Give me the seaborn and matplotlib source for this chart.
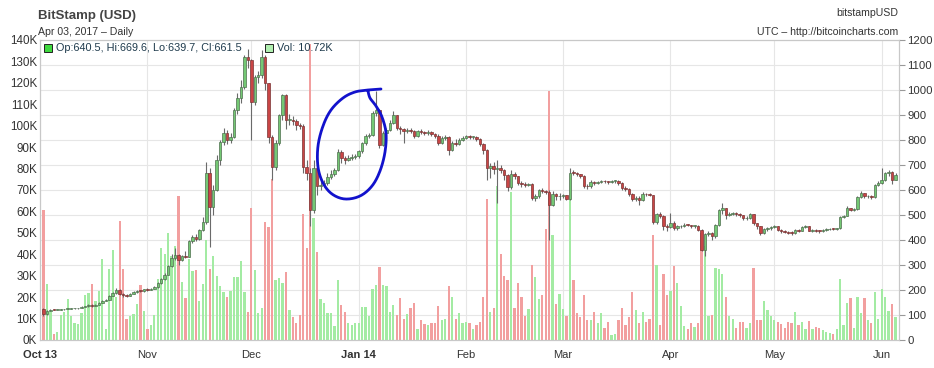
import numpy as np
import pandas as pd
import matplotlib
matplotlib.use("Agg")
import matplotlib.pyplot as plt
import seaborn as sns
from matplotlib.lines import Line2D
from matplotlib.patches import Rectangle

# first day of the series (Bitstamp daily candles)
START = "2013-10-02"
FIRST_OPEN = 125.0

# daily closes, one row per month (Oct 13 .. Jun 14)
closes = [
    104, 116, 122, 121, 122, 123, 124, 126, 126.5, 127, 128, 133, 135, 142, 137, 141, 150, 157, 162, 177, 188, 201, 186, 180, 178, 185, 192, 197, 196, 203,
    201, 205, 212, 228, 245, 262, 296, 330, 340, 322, 338, 334, 395, 412, 405, 440, 472, 668, 532, 600, 720, 792, 828, 800, 812, 920, 968, 1012, 1132, 1120,
    952, 1052, 1060, 1132, 1028, 812, 692, 788, 900, 980, 880, 882, 878, 860, 858, 692, 670, 520, 688, 615, 622, 630, 653, 664, 680, 753, 727, 722, 728, 733, 738,
    755, 787, 816, 822, 907, 920, 780, 827, 840, 870, 900, 850, 843, 838, 840, 836, 818, 835, 832, 828, 832, 826, 818, 790, 808, 812, 762, 790, 786, 800, 808,
    815, 812, 814, 805, 785, 762, 690, 698, 685, 690, 680, 660, 612, 665, 655, 628, 625, 622, 625, 568, 575, 600, 598, 592, 540, 585, 575, 578,
    580, 565, 670, 668, 663, 658, 618, 615, 632, 628, 632, 638, 635, 632, 636, 638, 630, 610, 605, 585, 565, 570, 560, 585, 583, 580, 473, 505, 498, 455, 452,
    470, 450, 455, 458, 462, 460, 456, 458, 440, 360, 425, 428, 415, 460, 520, 527, 500, 505, 508, 505, 500, 487, 490, 503, 467, 455, 428, 445, 447, 453,
    456, 440, 438, 433, 430, 428, 440, 438, 453, 455, 438, 440, 438, 436, 440, 443, 446, 445, 447, 493, 497, 527, 522, 525, 573, 587, 575, 578, 573, 620, 630,
    640, 667, 673, 640.5, 661.5,
]

highs = [
    128, 120, 125, 124, 124, 125, 126, 128, 128, 129, 130, 135, 137, 145, 143, 143, 152, 160, 165, 180, 192, 210, 205, 190, 184, 187, 195, 199, 200, 206,
    207, 207, 215, 232, 250, 268, 300, 345, 370, 345, 342, 358, 400, 420, 425, 445, 492, 712, 690, 620, 740, 800, 850, 840, 830, 930, 990, 1040, 1140, 1165,
    1125, 1060, 1075, 1160, 1140, 1030, 820, 800, 905, 985, 985, 905, 895, 885, 870, 865, 720, 690, 720, 690, 650, 640, 670, 680, 690, 765, 760, 735, 740, 745, 745,
    760, 792, 825, 830, 915, 995, 925, 835, 848, 880, 915, 900, 855, 850, 850, 848, 840, 840, 845, 838, 840, 835, 828, 825, 815, 820, 815, 795, 805, 810, 815,
    822, 820, 818, 816, 808, 790, 765, 710, 712, 720, 700, 685, 665, 680, 672, 658, 635, 632, 630, 628, 585, 605, 608, 602, 600, 595, 590, 588,
    585, 582, 690, 680, 672, 665, 660, 625, 640, 636, 638, 642, 640, 638, 640, 642, 640, 632, 615, 608, 590, 578, 575, 592, 590, 588, 582, 510, 512, 500, 465,
    510, 475, 462, 462, 468, 466, 462, 462, 460, 445, 430, 435, 432, 465, 525, 548, 530, 512, 512, 512, 508, 502, 495, 508, 505, 470, 458, 450, 452, 458,
    462, 458, 445, 442, 438, 435, 445, 445, 458, 460, 456, 446, 444, 442, 444, 447, 450, 450, 450, 497, 502, 535, 530, 530, 578, 595, 590, 582, 582, 625, 636,
    690, 672, 680, 675, 669.6,
]

lows = [
    95, 102, 115, 119, 120, 121, 122, 123, 125, 125, 126, 127, 132, 134, 133, 136, 140, 148, 155, 160, 175, 186, 180, 172, 174, 176, 184, 190, 192, 194,
    198, 199, 203, 210, 226, 240, 260, 292, 320, 300, 318, 330, 332, 388, 395, 400, 438, 465, 372, 500, 598, 700, 780, 785, 790, 810, 905, 950, 1005, 1090,
    800, 940, 1030, 1050, 1000, 790, 640, 680, 780, 880, 845, 860, 860, 840, 845, 670, 640, 455, 510, 580, 600, 615, 622, 645, 655, 675, 710, 705, 715, 720, 725,
    730, 748, 780, 810, 818, 895, 770, 775, 815, 835, 865, 840, 825, 790, 830, 828, 808, 812, 825, 820, 822, 818, 810, 780, 785, 800, 740, 755, 775, 782, 795,
    805, 805, 805, 795, 775, 745, 640, 650, 665, 550, 670, 640, 595, 605, 645, 620, 612, 612, 615, 560, 555, 570, 590, 585, 400, 535, 560, 560,
    570, 560, 560, 660, 655, 650, 610, 605, 610, 620, 625, 628, 630, 626, 628, 630, 622, 600, 595, 575, 555, 555, 540, 556, 575, 575, 465, 465, 490, 440, 438,
    448, 440, 440, 450, 452, 455, 450, 450, 435, 355, 335, 415, 400, 410, 455, 505, 485, 495, 500, 498, 492, 480, 482, 486, 460, 445, 420, 425, 438, 440,
    448, 435, 430, 428, 425, 420, 426, 432, 436, 448, 435, 434, 432, 430, 434, 438, 440, 440, 442, 445, 488, 495, 515, 518, 522, 570, 568, 570, 566, 570, 616,
    625, 636, 655, 625, 639.7,
]

# daily volume in thousands of BTC
volumes_k = [
    60.7, 26, 13, 2.8, 3.8, 11.7, 13, 19, 11, 8, 7.5, 12.5, 21, 22, 26, 18, 23, 38, 5, 33, 42, 20, 55.5, 33, 10, 11, 12, 17, 25.5, 13.6,
    5, 6.9, 11.6, 28.6, 42.9, 40, 50, 39, 44, 67, 27, 19.5, 38, 32, 32.5, 18, 26, 46.7, 33, 39, 30, 25, 22.5, 20, 23, 29.5, 29.5, 37, 22.5, 13,
    61.5, 32.7, 12.4, 14.8, 55, 52.9, 75, 28, 29, 26.6, 31.9, 14, 10.9, 7.8, 11.7, 59, 43, 138, 57, 41, 19, 17.4, 12.5, 12.5, 6.5, 28, 16.3, 13.2, 7.8, 7, 8,
    7.8, 15.4, 15.3, 11, 24, 25.6, 34, 25.6, 25, 13, 16.3, 11.6, 19.6, 9.6, 12, 14.8, 17.4, 5.3, 9.3, 7.5, 7, 7.8, 8, 16, 9.3, 10, 25, 20, 10, 12.4, 7.8,
    8.5, 7.8, 5, 7, 8.5, 20, 66, 13, 14.8, 72, 40, 30, 28, 69, 14.8, 26.6, 20, 11, 14.4, 35, 29.5, 19, 21, 52, 116, 49, 17, 21.7,
    14.4, 11, 66, 28, 12.5, 10.9, 21, 9.5, 9.3, 13, 7.8, 12.4, 5.5, 8.5, 2.5, 3, 9.3, 14.8, 7, 10.9, 22.5, 13.9, 8, 13, 8.5, 10, 49, 35, 7, 31, 21,
    23, 34.5, 26.7, 16, 6.5, 5, 7.8, 6.2, 8, 50, 44, 11, 11.6, 33.8, 33, 31, 20, 11, 10, 5.5, 8.3, 8.3, 5.8, 7.8, 33.8, 9.2, 9.5, 18, 14, 11,
    9.3, 8.3, 7.5, 5.5, 8.3, 7.8, 13, 6.8, 8.3, 5, 8.7, 5, 6.2, 5.8, 4.7, 3.9, 3.4, 3, 5, 28.3, 7, 17.4, 19.8, 5.8, 20, 12.4, 19.8, 9.2, 8, 22.3, 10,
    24, 20, 13.5, 17, 10.72,
]

# colours
VOL_UP, VOL_DOWN = "#a3eba3", "#f29f9f"
BODY_UP, BODY_DOWN = "#74c874", "#c94545"
EDGE_UP, EDGE_DOWN = "#4f6f4f", "#7a3434"
WICK = "#6a6a6a"
GRID = "#e6e6e6"
FRAME = "#c8c8c8"
TEXT = "#333333"

opens = [FIRST_OPEN] + closes[:-1]
df = pd.DataFrame({
    "day": np.arange(len(closes)),
    "open": opens, "high": highs, "low": lows, "close": closes,
    "vol": volumes_k,
})
df["dir"] = np.where(df["close"] >= df["open"], "up", "down")

sns.set_theme(style="white")
plt.rcParams["font.family"] = ["Liberation Sans", "DejaVu Sans"]

W, H = 934, 368
fig = plt.figure(figsize=(W / 100, H / 100), dpi=100)
ax = fig.add_axes([40 / W, 28 / H, 859 / W, 300 / H])

# volume bars (left axis)
sns.barplot(data=df, x="day", y="vol", hue="dir", palette={"up": VOL_UP, "down": VOL_DOWN},
            native_scale=True, dodge=False, width=0.66, saturation=1, errorbar=None,
            legend=False, linewidth=0, ax=ax)
ax.set_xlabel("")
ax.set_ylabel("")
ax.set_ylim(0, 140)
ax.set_xlim(-0.6, 247.0)

# candles (right axis)
ax2 = ax.twinx()
ax2.set_ylim(0, 1200)
up = df["dir"] == "up"
ax2.vlines(df["day"], df["low"], df["high"], color=WICK, lw=0.8, zorder=2)
body_lo = np.minimum(df["open"], df["close"])
body_h = np.maximum((df["close"] - df["open"]).abs(), 3.0)
ax2.bar(df["day"], body_h, bottom=body_lo, width=0.72,
        color=np.where(up, BODY_UP, BODY_DOWN), edgecolor=np.where(up, EDGE_UP, EDGE_DOWN),
        linewidth=0.5, zorder=3)

# price grid drawn on the volume axis so it stays behind the bars
price_ticks = np.arange(0, 1300, 100)
for p in price_ticks[1:]:
    ax.axhline(p * 140 / 1200, color=GRID, lw=0.8, zorder=0)

# month ticks, year shown on the first tick and on January
start = pd.Timestamp(START)
months = pd.date_range("2013-10-01", "2014-06-01", freq="MS")
mpos = [(m - start).days for m in months]
mlab = [m.strftime("%b %y") if (i == 0 or m.month == 1) else m.strftime("%b")
        for i, m in enumerate(months)]
ax.set_xticks(mpos)
ax.set_xticklabels(mlab)
for t in ax.get_xticklabels():
    if " " in t.get_text():
        t.set_fontweight("bold")
ax.grid(axis="x", color=GRID, lw=0.8)
ax.set_axisbelow(True)

ax.set_yticks(np.arange(0, 150, 10))
ax.set_yticklabels([f"{v}K" for v in range(0, 150, 10)])
ax2.set_yticks(price_ticks)
ax2.set_yticklabels([str(v) for v in price_ticks])

ax.tick_params(axis="x", length=0, pad=7, labelsize=8, colors=TEXT)
ax.tick_params(axis="y", length=0, pad=2, labelsize=8.4, colors=TEXT)
ax2.tick_params(axis="y", length=4, width=0.8, color="#999999", pad=2, labelsize=8.2, labelcolor=TEXT)

for a in (ax, ax2):
    for s in a.spines.values():
        s.set_color(FRAME)
        s.set_linewidth(0.8)

# header texts
fig.text(38 / W, 1 - 16 / H, "BitStamp (USD)", fontsize=9.5, fontweight="bold", color="#444444", va="center")
fig.text(38 / W, 1 - 32 / H, "Apr 03, 2017 \u2013 Daily", fontsize=7.6, color=TEXT, va="center")
fig.text(898 / W, 1 - 13 / H, "bitstampUSD", fontsize=7.6, color=TEXT, va="center", ha="right")
fig.text(898 / W, 1 - 32 / H, "UTC \u2013 http://bitcoincharts.com", fontsize=7.6, color=TEXT, va="center", ha="right")

# legend line for the last candle
last = df.iloc[-1]
fig.add_artist(Rectangle((44 / W, 1 - 52 / H), 8 / W, 8 / H, transform=fig.transFigure,
                         facecolor="#3fd93f", edgecolor="#222222", lw=0.7))
fig.text(56 / W, 1 - 48 / H,
         f"Op:{last['open']:.1f}, Hi:{last['high']:.1f}, Lo:{last['low']:.1f}, Cl:{last['close']:.1f}",
         fontsize=7.8, color="#1e3a4c", va="center")
fig.add_artist(Rectangle((265 / W, 1 - 52 / H), 8 / W, 8 / H, transform=fig.transFigure,
                         facecolor="#b0efb0", edgecolor="#222222", lw=0.7))
fig.text(277 / W, 1 - 48 / H, f"Vol: {last['vol']:.2f}K", fontsize=7.8, color="#1e3a4c", va="center")


# hand drawn blue loop around the early January run-up
def catmull(pts, n=10):
    pts = np.asarray(pts, float)
    p = np.vstack([pts[0], pts, pts[-1]])
    out = []
    for i in range(1, len(p) - 2):
        p0, p1, p2, p3 = p[i - 1], p[i], p[i + 1], p[i + 2]
        for t in np.linspace(0, 1, n, endpoint=False):
            out.append(0.5 * (2 * p1 + (-p0 + p2) * t + (2 * p0 - 5 * p1 + 4 * p2 - p3) * t ** 2
                              + (-p0 + 3 * p1 - 3 * p2 + p3) * t ** 3))
    out.append(p[-2])
    return np.array(out)


loop = [(381, 89), (368, 90), (355, 92), (343, 98), (331, 110), (323, 126), (318, 146), (318, 167),
        (323, 183), (332, 194), (345, 199), (360, 196), (372, 186), (380, 171), (385, 152), (386, 133),
        (382, 117), (376, 106), (370, 98), (368, 91)]
curve = catmull(loop)
fig.add_artist(Line2D(curve[:, 0] / W, 1 - curve[:, 1] / H, transform=fig.transFigure,
                      color="#1212cc", lw=2.0, solid_capstyle="round", solid_joinstyle="round"))

fig.savefig("out.png", dpi=100)
